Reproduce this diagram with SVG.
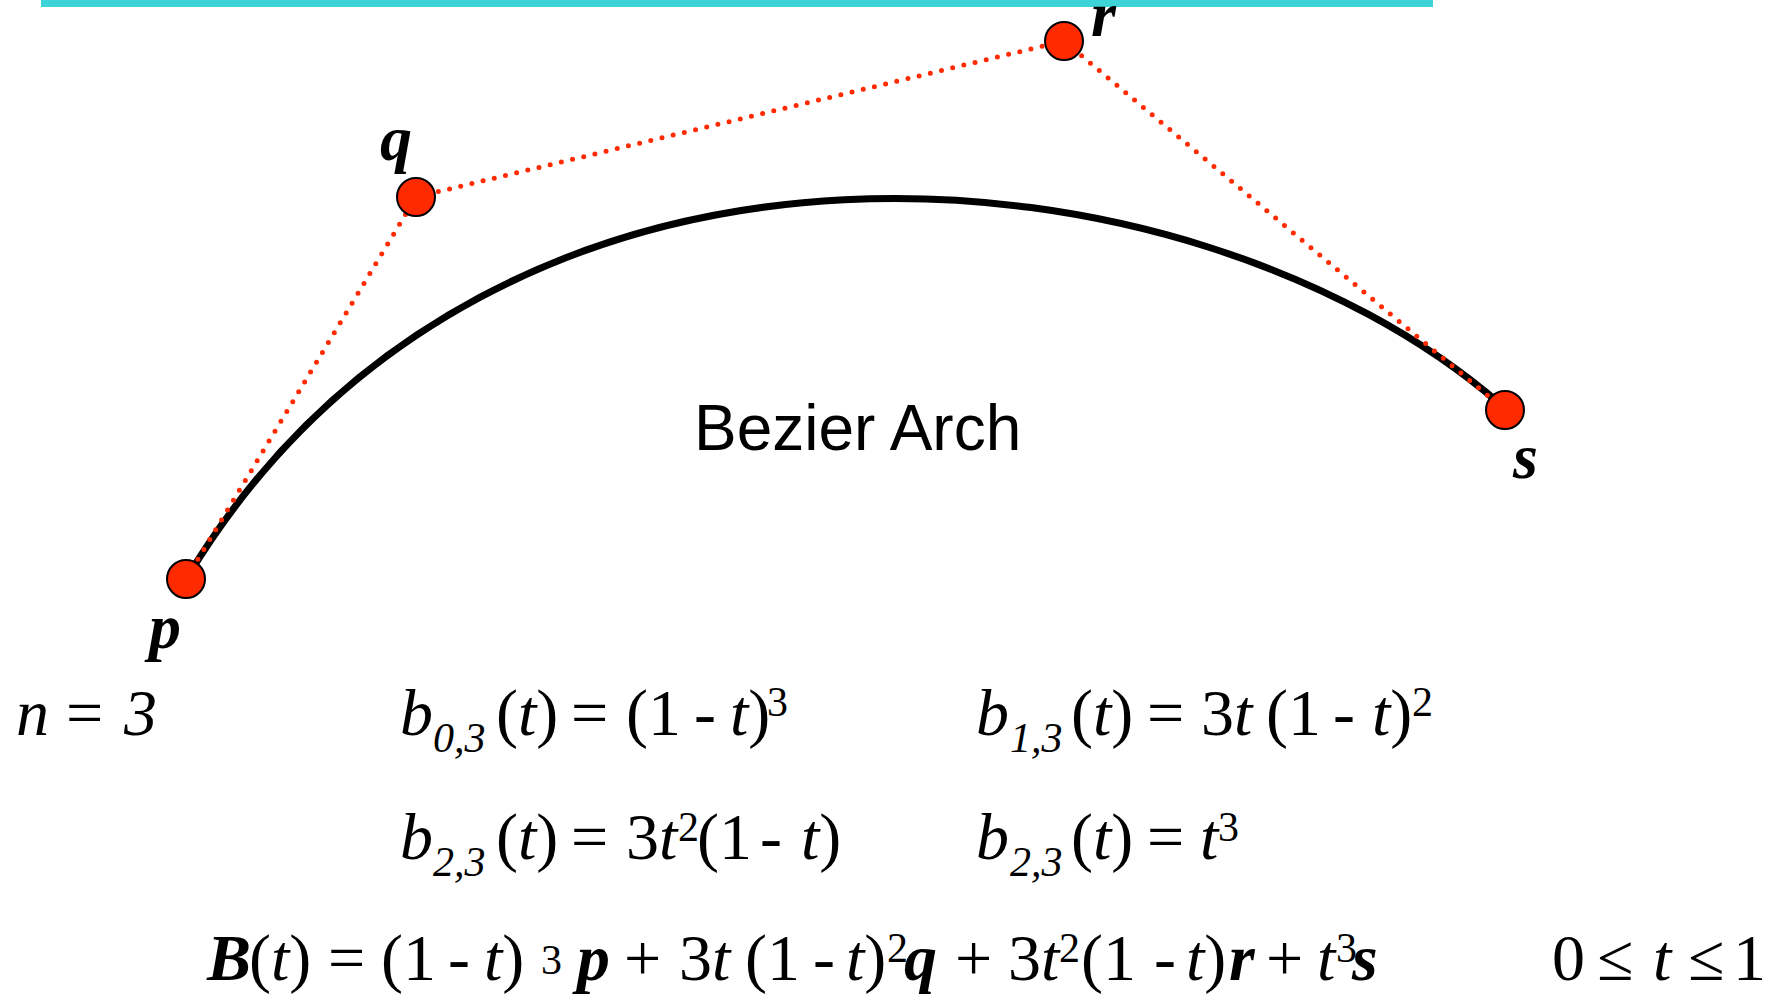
<svg xmlns="http://www.w3.org/2000/svg" width="1773" height="994" viewBox="0 0 1773 994">
<style>
.pt{fill:#ff2a00;stroke:#000;stroke-width:2}
.dot{fill:none;stroke:#ff2a00;stroke-width:5;stroke-linecap:round;stroke-dasharray:0 11.5}
.lbl{font-family:"Liberation Serif","Times New Roman",serif;font-weight:bold;font-style:italic;font-size:64px;fill:#000}
.m{font-family:"Liberation Serif","Times New Roman",serif;font-size:66px;fill:#000}
.i{font-style:italic}
.bi{font-style:italic;font-weight:bold}
.sub{font-style:italic;font-size:42px}
.sup{font-size:42px}
.title{font-family:"Liberation Sans",Arial,sans-serif;font-size:64px;fill:#000}
</style>
<rect x="41" y="0" width="1392" height="7" fill="#3cd4d6"/>
<g id="curve">
<path d="M188 576 C 496 68, 1193 138, 1500 404" fill="none" stroke="#000" stroke-width="7"/>
</g>
<g id="connectors">
<line class="dot" x1="186" y1="579" x2="416" y2="197"/>
<line class="dot" x1="416" y1="197" x2="1064" y2="41"/>
<line class="dot" x1="1064" y1="41" x2="1505" y2="410"/>
</g>
<g id="node-p">
<circle class="pt" cx="186" cy="579" r="19"/>
<text class="lbl" x="149" y="648">p</text>
</g>
<g id="node-q">
<circle class="pt" cx="416" cy="197" r="19"/>
<text class="lbl" x="380" y="160">q</text>
</g>
<g id="node-r">
<circle class="pt" cx="1064" cy="41" r="19"/>
<text class="lbl" x="1091" y="36">r</text>
</g>
<g id="node-s">
<circle class="pt" cx="1505" cy="410" r="19"/>
<text class="lbl" x="1513" y="478">s</text>
</g>
<g id="title">
<text class="title" x="694" y="450">Bezier Arch</text>
</g>
<g id="equations">
<text class="m" y="735"><tspan x="16" class="i">n</tspan><tspan x="66">=</tspan><tspan x="124" class="i">3</tspan></text>
<text class="m" y="735"><tspan x="400" class="i">b</tspan><tspan x="433" y="752" class="sub">0,3</tspan><tspan x="496" y="735">(</tspan><tspan class="i">t</tspan><tspan>)</tspan><tspan x="571">=</tspan><tspan x="626">(1</tspan><tspan x="694">-</tspan><tspan x="730" class="i">t</tspan><tspan>)</tspan><tspan x="767" y="716" class="sup">3</tspan></text>
<text class="m" y="735"><tspan x="976" class="i">b</tspan><tspan x="1010" y="752" class="sub">1,3</tspan><tspan x="1071" y="735">(</tspan><tspan class="i">t</tspan><tspan>)</tspan><tspan x="1147">=</tspan><tspan x="1201">3</tspan><tspan class="i">t</tspan><tspan x="1266">(1</tspan><tspan x="1333">-</tspan><tspan x="1372" class="i">t</tspan><tspan>)</tspan><tspan x="1412" y="716" class="sup">2</tspan></text>
<text class="m" y="859"><tspan x="400" class="i">b</tspan><tspan x="433" y="876" class="sub">2,3</tspan><tspan x="496" y="859">(</tspan><tspan class="i">t</tspan><tspan>)</tspan><tspan x="571">=</tspan><tspan x="626">3</tspan><tspan class="i">t</tspan><tspan x="678" y="841" class="sup">2</tspan><tspan x="697" y="859">(1</tspan><tspan x="760">-</tspan><tspan x="801" class="i">t</tspan><tspan>)</tspan></text>
<text class="m" y="859"><tspan x="976" class="i">b</tspan><tspan x="1010" y="876" class="sub">2,3</tspan><tspan x="1071" y="859">(</tspan><tspan class="i">t</tspan><tspan>)</tspan><tspan x="1147">=</tspan><tspan x="1200" class="i">t</tspan><tspan x="1218" y="841" class="sup">3</tspan></text>
<text class="m" y="980"><tspan x="207" class="bi">B</tspan><tspan x="249">(</tspan><tspan class="i">t</tspan><tspan>)</tspan><tspan x="328">=</tspan><tspan x="381">(1</tspan><tspan x="448">-</tspan><tspan x="484" class="i">t</tspan><tspan>)</tspan><tspan x="541" y="974" class="sup">3</tspan><tspan x="577" y="980" class="bi">p</tspan><tspan x="624">+</tspan><tspan x="679">3</tspan><tspan class="i">t</tspan><tspan x="745">(1</tspan><tspan x="813">-</tspan><tspan x="846" class="i">t</tspan><tspan>)</tspan><tspan x="887" y="962" class="sup">2</tspan><tspan x="904" y="980" class="bi">q</tspan><tspan x="955">+</tspan><tspan x="1008">3</tspan><tspan class="i">t</tspan><tspan x="1059" y="962" class="sup">2</tspan><tspan x="1081" y="980">(1</tspan><tspan x="1154">-</tspan><tspan x="1186" class="i">t</tspan><tspan>)</tspan><tspan x="1229" class="bi">r</tspan><tspan x="1266">+</tspan><tspan x="1317" class="i">t</tspan><tspan x="1336" y="962" class="sup">3</tspan><tspan x="1352" y="980" class="bi">s</tspan></text>
<text class="m" y="980"><tspan x="1552">0</tspan><tspan x="1597">≤</tspan><tspan x="1653" class="i">t</tspan><tspan x="1688">≤</tspan><tspan x="1733">1</tspan></text>
</g>
</svg>
